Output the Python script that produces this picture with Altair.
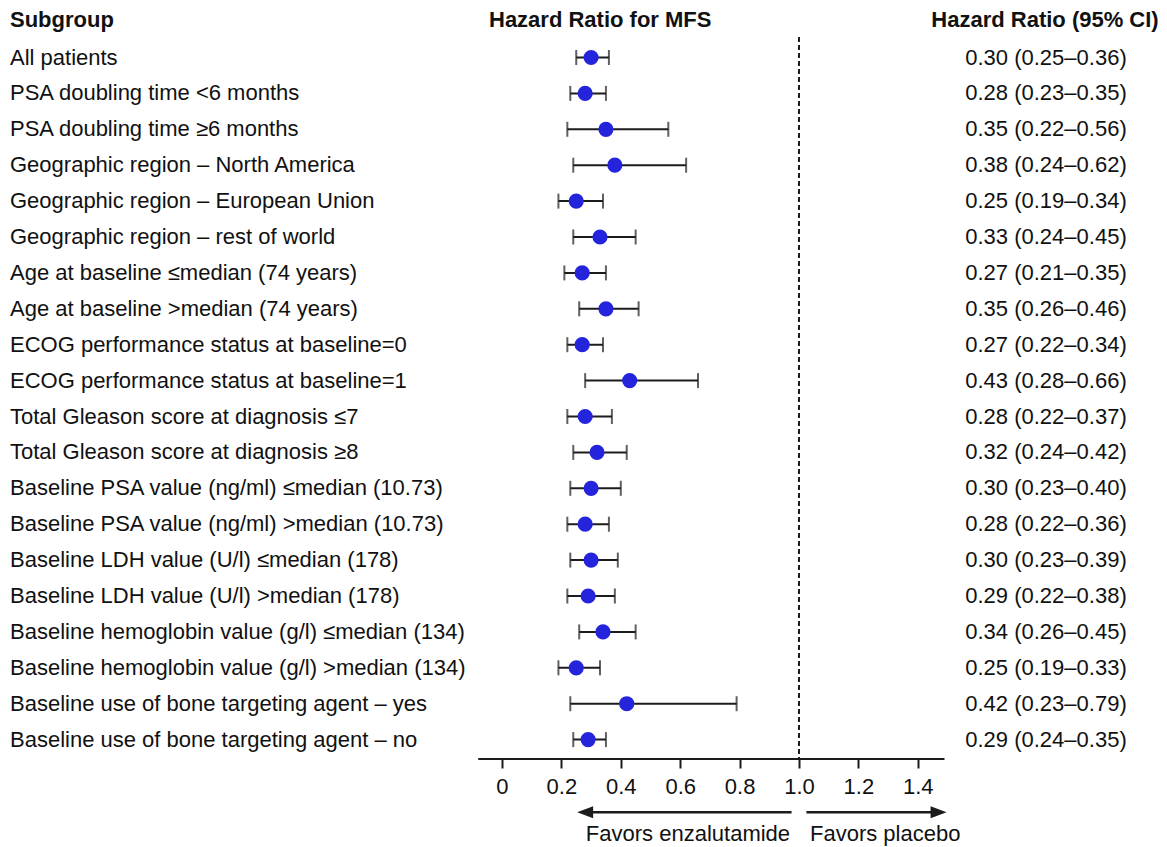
import altair as alt
import pandas as pd

subgroups = [
    "All patients",
    "PSA doubling time <6 months",
    "PSA doubling time ≥6 months",
    "Geographic region – North America",
    "Geographic region – European Union",
    "Geographic region – rest of world",
    "Age at baseline ≤median (74 years)",
    "Age at baseline >median (74 years)",
    "ECOG performance status at baseline=0",
    "ECOG performance status at baseline=1",
    "Total Gleason score at diagnosis ≤7",
    "Total Gleason score at diagnosis ≥8",
    "Baseline PSA value (ng/ml) ≤median (10.73)",
    "Baseline PSA value (ng/ml) >median (10.73)",
    "Baseline LDH value (U/l) ≤median (178)",
    "Baseline LDH value (U/l) >median (178)",
    "Baseline hemoglobin value (g/l) ≤median (134)",
    "Baseline hemoglobin value (g/l) >median (134)",
    "Baseline use of bone targeting agent – yes",
    "Baseline use of bone targeting agent – no",
]
hr = [0.30, 0.28, 0.35, 0.38, 0.25, 0.33, 0.27, 0.35, 0.27, 0.43,
      0.28, 0.32, 0.30, 0.28, 0.30, 0.29, 0.34, 0.25, 0.42, 0.29]
ci_low = [0.25, 0.23, 0.22, 0.24, 0.19, 0.24, 0.21, 0.26, 0.22, 0.28,
          0.22, 0.24, 0.23, 0.22, 0.23, 0.22, 0.26, 0.19, 0.23, 0.24]
ci_high = [0.36, 0.35, 0.56, 0.62, 0.34, 0.45, 0.35, 0.46, 0.34, 0.66,
           0.37, 0.42, 0.40, 0.36, 0.39, 0.38, 0.45, 0.33, 0.79, 0.35]
tick_values = [0, 0.2, 0.4, 0.6, 0.8, 1.0, 1.2, 1.4]

FONT = "Liberation Sans"
INK = "#111111"
LINE = "#1c1c1c"
DOT = "#2424dd"
FS = 22

W, H = 1147, 741
X_DOMAIN = [-1.6633, 2.1987]
Y_DOMAIN = [-1.1003, 19.54]

rows = pd.DataFrame({
    "row": list(range(len(subgroups))),
    "label": subgroups,
    "hr": hr,
    "lo": ci_low,
    "hi": ci_high,
    "ci_text": [f"{h:.2f} ({l:.2f}–{u:.2f})" for h, l, u in zip(hr, ci_low, ci_high)],
})

xs = alt.Scale(domain=X_DOMAIN, nice=False, zero=False)
ys = alt.Scale(domain=Y_DOMAIN, nice=False, zero=False, reverse=True)
x_axis = alt.Axis(
    values=tick_values, domain=False, grid=False, title=None,
    tickSize=9, tickWidth=2, tickColor=LINE,
    labelFont=FONT, labelFontSize=FS, labelColor=INK, labelPadding=8,
    labelFlush=False, labelOverlap=False,
    labelExpr="datum.value == 0 ? '0' : format(datum.value, '.1f')",
)
Y = alt.Y("row:Q", scale=ys, axis=None)

base = alt.Chart(rows)

whisker = base.mark_rule(color=LINE, strokeWidth=2).encode(
    x=alt.X("lo:Q", scale=xs, axis=x_axis), x2="hi:Q", y=Y)
cap_lo = base.mark_tick(color=LINE, orient="vertical", size=15, thickness=2).encode(
    x=alt.X("lo:Q", scale=xs, axis=x_axis), y=Y)
cap_hi = base.mark_tick(color=LINE, orient="vertical", size=15, thickness=2).encode(
    x=alt.X("hi:Q", scale=xs, axis=x_axis), y=Y)
dots = base.mark_point(filled=True, size=230, color=DOT, opacity=1).encode(
    x=alt.X("hr:Q", scale=xs, axis=x_axis), y=Y)

labels = base.mark_text(align="left", baseline="middle", font=FONT, fontSize=FS, color=INK).encode(
    x=alt.value(2), y=Y, text="label:N")
ci_texts = base.mark_text(align="center", baseline="middle", font=FONT, fontSize=FS, color=INK).encode(
    x=alt.value(1038), y=Y, text="ci_text:N")

headers = pd.DataFrame({
    "text": ["Subgroup", "Hazard Ratio for MFS", "Hazard Ratio (95% CI)"],
    "row": [-1.05, -1.05, -1.05],
})
h_sub = alt.Chart(headers.iloc[[0]]).mark_text(align="left", baseline="middle", font=FONT, fontSize=FS,
                                               fontWeight="bold", color=INK).encode(
    x=alt.value(2), y=alt.Y("row:Q", scale=ys, axis=None), text="text:N")
h_mid = alt.Chart(headers.iloc[[1]]).mark_text(align="left", baseline="middle", font=FONT, fontSize=FS,
                                               fontWeight="bold", color=INK).encode(
    x=alt.value(481), y=alt.Y("row:Q", scale=ys, axis=None), text="text:N")
h_ci = alt.Chart(headers.iloc[[2]]).mark_text(align="center", baseline="middle", font=FONT, fontSize=FS,
                                              fontWeight="bold", color=INK).encode(
    x=alt.value(1037), y=alt.Y("row:Q", scale=ys, axis=None), text="text:N")

ref = pd.DataFrame({"x": [1.0], "y": [-0.57], "y2": [Y_DOMAIN[1]]})
ref_line = alt.Chart(ref).mark_rule(color=LINE, strokeWidth=2, strokeDash=[5, 3]).encode(
    x=alt.X("x:Q", scale=xs, axis=x_axis), y=alt.Y("y:Q", scale=ys, axis=None), y2="y2:Q")

axis_df = pd.DataFrame({"x": [-0.08], "x2": [1.49]})
axis_line = alt.Chart(axis_df).mark_rule(color=LINE, strokeWidth=2).encode(
    x=alt.X("x:Q", scale=xs, axis=x_axis), x2="x2:Q", y=alt.value(H))

shafts = pd.DataFrame({"x": [0.28, 1.025], "x2": [0.975, 1.47], "y": [21.02, 21.02]})
shaft = alt.Chart(shafts).mark_rule(color=LINE, strokeWidth=2.5).encode(
    x=alt.X("x:Q", scale=xs, axis=x_axis), x2="x2:Q", y=alt.Y("y:Q", scale=ys, axis=None))
heads = pd.DataFrame({"x": [0.28, 1.47], "y": [21.02, 21.02]})
head_l = alt.Chart(heads.iloc[[0]]).mark_point(filled=True, opacity=1, color=LINE, size=256,
                                               shape="M-1,0L1,-0.75L1,0.75Z").encode(
    x=alt.X("x:Q", scale=xs, axis=x_axis), y=alt.Y("y:Q", scale=ys, axis=None))
head_r = alt.Chart(heads.iloc[[1]]).mark_point(filled=True, opacity=1, color=LINE, size=256,
                                               shape="M1,0L-1,-0.75L-1,0.75Z").encode(
    x=alt.X("x:Q", scale=xs, axis=x_axis), y=alt.Y("y:Q", scale=ys, axis=None))

favors = pd.DataFrame({"x": [0.97, 1.037], "y": [21.64, 21.64],
                       "text": ["Favors enzalutamide", "Favors placebo"]})
fav_l = alt.Chart(favors.iloc[[0]]).mark_text(align="right", baseline="middle", font=FONT, fontSize=FS,
                                              color=INK).encode(
    x=alt.X("x:Q", scale=xs, axis=x_axis), y=alt.Y("y:Q", scale=ys, axis=None), text="text:N")
fav_r = alt.Chart(favors.iloc[[1]]).mark_text(align="left", baseline="middle", font=FONT, fontSize=FS,
                                              color=INK).encode(
    x=alt.X("x:Q", scale=xs, axis=x_axis), y=alt.Y("y:Q", scale=ys, axis=None), text="text:N")

chart = alt.layer(
    axis_line, ref_line, whisker, cap_lo, cap_hi, dots,
    labels, ci_texts, h_sub, h_mid, h_ci,
    shaft, head_l, head_r, fav_l, fav_r,
).properties(
    width=W, height=H,
    autosize=alt.AutoSizeParams(type="none"),
    padding={"left": 0, "top": 10, "right": 4, "bottom": 88},
    background="white",
).configure_view(stroke=None)

chart.save("out.html", embed_options={"renderer": "svg", "actions": False})
